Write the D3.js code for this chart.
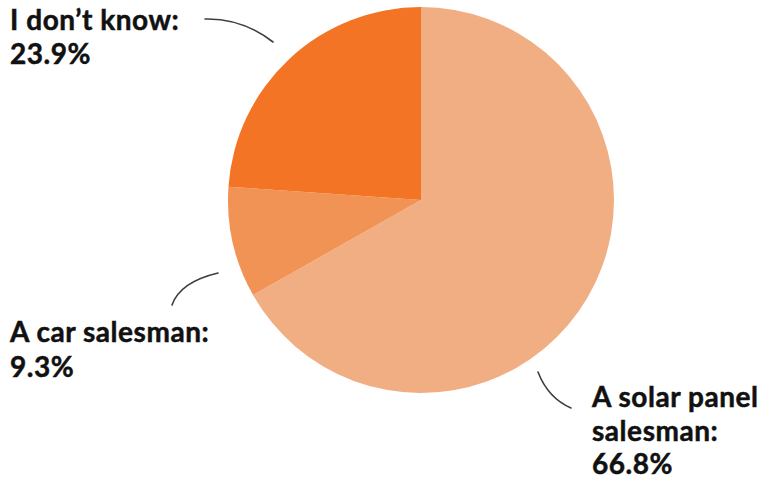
<!DOCTYPE html>
<html>
<head>
<meta charset="utf-8">
<script src="https://cdn.jsdelivr.net/npm/d3@7"></script>
<style>
  html, body { margin: 0; padding: 0; background: #ffffff; }
  svg { display: block; }
  text { font-family: Lato, "Open Sans", sans-serif; font-weight: 700; fill: #111111;
         stroke: #111111; stroke-width: 0.5px; letter-spacing: 0.55px; }
</style>
</head>
<body>
<script>
// Survey answers, in clockwise order from 12 o'clock
const categories = ["A solar panel salesman", "A car salesman", "I don\u2019t know"];
const shares = [66.8, 9.3, 23.9];
const sliceColors = ["#F1AE83", "#F29356", "#F27424"];

// Label lines for each answer
const labelLines = [
  ["A solar panel", "salesman:", "66.8%"],
  ["A car salesman:", "9.3%"],
  ["I don\u2019t know:", "23.9%"]
];

const W = 763, H = 489;
const cx = 421, cy = 200, R = 193;

const svg = d3.select("body").append("svg")
  .attr("width", W).attr("height", H);

const pie = d3.pie().sort(null).value(d => d.value);
const arc = d3.arc().innerRadius(0).outerRadius(R);

const data = categories.map((c, i) => ({ name: c, value: shares[i], color: sliceColors[i] }));

svg.append("g")
  .attr("transform", `translate(${cx},${cy})`)
  .selectAll("path")
  .data(pie(data))
  .join("path")
  .attr("d", arc)
  .attr("fill", d => d.data.color);

// Label placement and hand-drawn leader curves
const labelLayout = [
  { x: 592, y: 407, lh: 33.5, curve: "M538,372 Q548,398 571,408" },
  { x: 10, y: 342, lh: 35, curve: "M218,273 Q180,282 172,305" },
  { x: 10, y: 30, lh: 33.5, curve: "M205,19 Q242,18 273,42" }
];

labelLayout.forEach((L, i) => {
  svg.append("path")
    .attr("d", L.curve)
    .attr("fill", "none")
    .attr("stroke", "#3f3f3f")
    .attr("stroke-width", 1.6)
    .attr("stroke-linecap", "round");

  const t = svg.append("text")
    .attr("x", L.x).attr("y", L.y)
    .attr("font-size", 28);
  labelLines[i].forEach((line, j) => {
    t.append("tspan")
      .attr("x", L.x)
      .attr("dy", j === 0 ? 0 : L.lh)
      .text(line);
  });
});
</script>
</body>
</html>
